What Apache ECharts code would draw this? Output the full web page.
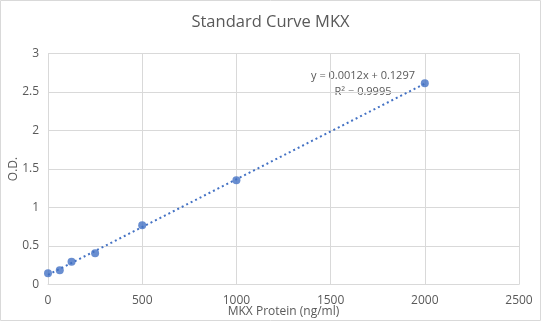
<!DOCTYPE html>
<html><head><meta charset="utf-8">
<script src="https://cdn.jsdelivr.net/npm/echarts@6/dist/echarts.min.js"></script>
<style>html,body{margin:0;padding:0;background:#fff}#c{width:541px;height:321px}</style>
</head><body><div id="c"></div>
<script>
const title = "Standard Curve MKX";
const xName = "MKX Protein (ng/ml)";
const yName = "O.D.";
const concentrations = [0, 62.5, 125, 250, 500, 1000, 2000];
const odValues = [0.145, 0.184, 0.296, 0.405, 0.769, 1.353, 2.613];
const equationText = "y = 0.0012x + 0.1297";
const r2Text = "R² = 0.9995";

// least squares trendline from the data
const n = concentrations.length;
const mx = concentrations.reduce((a,b)=>a+b,0)/n;
const my = odValues.reduce((a,b)=>a+b,0)/n;
let sxy=0,sxx=0;
for(let i=0;i<n;i++){sxy+=(concentrations[i]-mx)*(odValues[i]-my);sxx+=(concentrations[i]-mx)**2;}
const slope=sxy/sxx, intercept=my-slope*mx;
const xMinT = concentrations[0], xMaxT = concentrations[n-1];
const trend = [[xMinT, intercept+slope*xMinT],[xMaxT, intercept+slope*xMaxT]];

const font = "'Open Sans', 'Noto Sans', sans-serif";
const chart = echarts.init(document.getElementById('c'), null, {renderer:'canvas'});
chart.setOption({
  animation:false,
  title:{text:title,left:'center',top:9,textStyle:{fontFamily:font,fontSize:16.5,fontWeight:'normal',color:'#595959'}},
  grid:{left:48,right:22,top:53.5,bottom:36.5,containLabel:false,outerBoundsMode:'none'},
  xAxis:{type:'value',min:0,max:2500,interval:500,name:xName,nameLocation:'middle',nameGap:21,nameMoveOverlap:false,
    nameTextStyle:{fontFamily:font,fontSize:12,color:'#595959'},
    axisLine:{show:true,lineStyle:{color:'#d9d9d9'}},axisTick:{show:false},
    axisLabel:{fontFamily:font,fontSize:12,color:'#595959',margin:10,formatter:v=>String(v)},
    splitLine:{show:true,lineStyle:{color:'#d9d9d9'}}},
  yAxis:{type:'value',min:0,max:3,interval:0.5,name:yName,nameLocation:'middle',nameGap:28,nameMoveOverlap:false,
    nameTextStyle:{fontFamily:font,fontSize:12,color:'#595959'},
    axisLine:{show:true,lineStyle:{color:'#d9d9d9'}},axisTick:{show:false},
    axisLabel:{fontFamily:font,fontSize:12,color:'#595959',margin:9,formatter:v=>String(v)},
    splitLine:{show:true,lineStyle:{color:'#d9d9d9'}}},
  series:[
    {type:'line',data:trend,symbol:'none',silent:true,
     lineStyle:{color:'#4472C4',width:2,type:[2,3]},z:2},
    {type:'scatter',data:concentrations.map((x,i)=>[x,odValues[i]]),symbol:'circle',symbolSize:8,
     itemStyle:{color:'#4472C4'},z:3}
  ],
  graphic:[
    {type:'rect',shape:{x:0.5,y:0.5,width:540,height:320},style:{fill:'none',stroke:'#d9d9d9',lineWidth:1},silent:true},
    {type:'text',x:363,y:76,style:{text:equationText,textAlign:'center',textVerticalAlign:'middle',fontFamily:font,fontSize:11,fill:'#595959'}},
    {type:'text',x:363,y:92,style:{text:r2Text,textAlign:'center',textVerticalAlign:'middle',fontFamily:font,fontSize:11,fill:'#595959'}}
  ]
});
</script></body></html>
